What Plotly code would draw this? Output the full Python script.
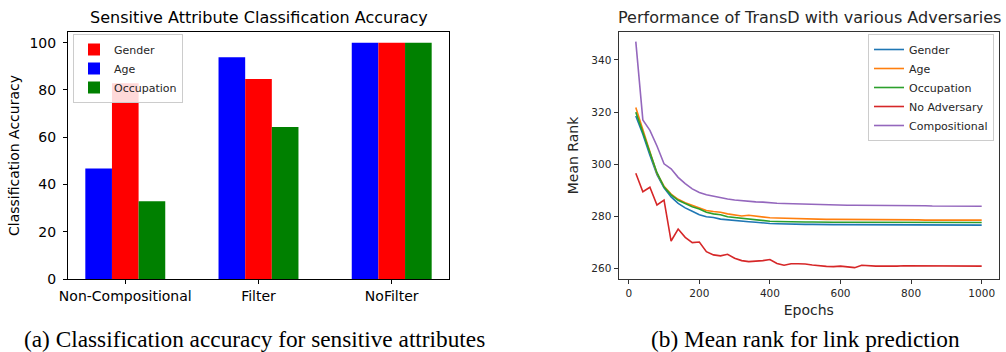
import plotly.graph_objects as go

# ---------------- data: left chart ----------------
bar_categories = ["Non-Compositional", "Filter", "NoFilter"]
acc_age = [46.8, 93.8, 100.0]
acc_gender = [82.8, 84.6, 100.0]
acc_occupation = [32.9, 64.3, 100.0]
acc_yticks = [0, 20, 40, 60, 80, 100]

# ---------------- data: right chart ----------------
epochs = [20, 40, 60, 80, 100, 120, 140, 160, 180, 200,
          220, 240, 260, 280, 300, 320, 340, 360, 380, 400,
          420, 440, 460, 480, 500, 520, 540, 560, 580, 600,
          620, 640, 660, 680, 700, 720, 740, 760, 780, 800,
          820, 840, 860, 880, 900, 920, 940, 960, 980, 1000]
rank_gender = [318.5, 311.5, 303.5, 296.0, 291.0, 287.5, 285.0, 283.3, 282.0, 280.7,
               279.9, 279.6, 279.0, 278.7, 278.5, 278.2, 278.0, 277.8, 277.5, 277.3,
               277.2, 277.1, 277.1, 277.0, 277.0, 277.0, 276.9, 276.9, 276.9, 276.9,
               276.9, 276.8, 276.8, 276.8, 276.8, 276.8, 276.8, 276.8, 276.8, 276.8,
               276.8, 276.8, 276.8, 276.7, 276.7, 276.7, 276.7, 276.7, 276.7, 276.7]
rank_age = [321.8, 313.0, 304.8, 296.5, 291.6, 288.6, 286.6, 285.3, 284.3, 283.4,
            282.3, 281.9, 281.6, 281.0, 280.7, 280.2, 280.5, 280.1, 279.7, 279.5,
            279.4, 279.3, 279.2, 279.1, 279.0, 278.9, 278.9, 278.9, 278.9, 278.9,
            278.9, 278.8, 278.8, 278.8, 278.7, 278.7, 278.7, 278.7, 278.7, 278.7,
            278.7, 278.6, 278.6, 278.6, 278.6, 278.6, 278.6, 278.6, 278.6, 278.6]
rank_occupation = [320.0, 312.5, 304.5, 296.8, 291.3, 288.3, 286.2, 284.8, 283.7, 282.9,
                   281.6, 281.0, 280.7, 279.9, 279.6, 279.4, 279.1, 278.8, 278.5, 278.2,
                   278.1, 278.0, 278.0, 277.9, 277.9, 277.9, 277.8, 277.8, 277.8, 277.8,
                   277.8, 277.8, 277.8, 277.7, 277.7, 277.7, 277.7, 277.7, 277.7, 277.7,
                   277.7, 277.7, 277.7, 277.7, 277.7, 277.7, 277.7, 277.7, 277.7, 277.7]
rank_no_adv = [296.6, 289.5, 291.2, 284.4, 286.3, 270.6, 275.2, 272.0, 270.0, 270.2,
               266.5, 265.3, 264.9, 265.5, 264.0, 263.1, 262.7, 262.8, 263.1, 263.5,
               262.0, 261.3, 261.9, 261.9, 261.8, 261.4, 261.1, 260.9, 260.8, 261.0,
               260.7, 260.4, 261.3, 261.1, 261.0, 261.0, 260.9, 261.0, 261.1, 261.1,
               261.0, 261.0, 261.0, 260.9, 261.0, 261.0, 261.0, 261.0, 261.0, 261.0]
rank_compositional = [347.0, 317.0, 313.0, 307.0, 300.2, 298.3, 295.0, 292.6, 290.6, 289.2,
                      288.3, 287.7, 287.2, 286.7, 286.3, 286.0, 285.8, 285.6, 285.5, 285.2,
                      285.1, 285.0, 284.9, 284.8, 284.7, 284.6, 284.5, 284.5, 284.4, 284.4,
                      284.3, 284.3, 284.3, 284.2, 284.2, 284.2, 284.2, 284.1, 284.1, 284.1,
                      284.1, 284.1, 284.0, 284.0, 284.0, 284.0, 284.0, 283.9, 283.9, 283.9]
rank_xticks = [0, 200, 400, 600, 800, 1000]
rank_yticks = [260, 280, 300, 320, 340]

W, H = 1006, 352
SANS = "DejaVu Sans"


def px(x):
    return x / W


def py(y):
    return 1 - y / H


fig = go.Figure()

# left: grouped bars (order in group: Age, Gender, Occupation)
fig.add_trace(go.Bar(x=bar_categories, y=acc_age, name="Age", marker=dict(color="#0000ff", line=dict(width=0)),
                     xaxis="x", yaxis="y", legend="legend", legendrank=2))
fig.add_trace(go.Bar(x=bar_categories, y=acc_gender, name="Gender", marker=dict(color="#ff0000", line=dict(width=0)),
                     xaxis="x", yaxis="y", legend="legend", legendrank=1))
fig.add_trace(go.Bar(x=bar_categories, y=acc_occupation, name="Occupation", marker=dict(color="#008000", line=dict(width=0)),
                     xaxis="x", yaxis="y", legend="legend", legendrank=3))

# right: lines
line_series = [
    ("Gender", rank_gender, "#1f77b4"),
    ("Age", rank_age, "#ff7f0e"),
    ("Occupation", rank_occupation, "#2ca02c"),
    ("No Adversary", rank_no_adv, "#d62728"),
    ("Compositional", rank_compositional, "#9467bd"),
]
for i, (name, vals, col) in enumerate(line_series):
    fig.add_trace(go.Scatter(x=epochs, y=vals, name=name, mode="lines",
                             line=dict(color=col, width=1.6),
                             xaxis="x2", yaxis="y2", legend="legend2", legendrank=i + 1))

plot_top, plot_bot = 32, 279

fig.update_layout(
    width=W, height=H,
    margin=dict(l=0, r=0, t=0, b=0),
    paper_bgcolor="white", plot_bgcolor="white",
    font=dict(family=SANS, color="black"),
    barmode="group", bargap=0.4, bargroupgap=0,
    xaxis=dict(domain=[px(68), px(449)], range=[-0.43, 2.43], anchor="y",
               showline=True, linecolor="black", linewidth=1, mirror=True,
               ticks="outside", ticklen=4, tickcolor="black", showgrid=False,
               tickfont=dict(size=14, color="black", family=SANS), automargin=False),
    yaxis=dict(domain=[py(plot_bot), py(plot_top)], range=[0, 104.5], anchor="x",
               tickvals=acc_yticks, ticklabelstandoff=4,
               showline=True, linecolor="black", linewidth=1, mirror=True,
               ticks="outside", ticklen=4, tickcolor="black", showgrid=False, zeroline=False,
               tickfont=dict(size=14, color="black", family=SANS), automargin=False,
               title=dict(text="Classification Accuracy", font=dict(size=14, family=SANS, color="black"), standoff=6)),
    xaxis2=dict(domain=[px(618.5), px(999)], range=[-29, 1049], anchor="y2",
                tickvals=rank_xticks,
                showline=True, linecolor="#333333", linewidth=1, mirror=True,
                ticks="outside", ticklen=4, tickcolor="#333333", showgrid=False, zeroline=False,
                tickfont=dict(size=10.5, color="#262626", family=SANS), automargin=False,
                title=dict(text="Epochs", font=dict(size=14, family=SANS, color="#262626"), standoff=7)),
    yaxis2=dict(domain=[py(plot_bot), py(plot_top)], range=[256.05, 350.7], anchor="x2",
                tickvals=rank_yticks,
                showline=True, linecolor="#333333", linewidth=1, mirror=True,
                ticks="outside", ticklen=4, tickcolor="#333333", showgrid=False, zeroline=False,
                tickfont=dict(size=10.5, color="#262626", family=SANS), automargin=False,
                title=dict(text="Mean Rank", font=dict(size=14, family=SANS, color="#262626"), standoff=9)),
    legend=dict(x=px(73), y=py(34), xanchor="left", yanchor="top",
                bgcolor="rgba(255,255,255,0.85)", bordercolor="#cccccc", borderwidth=1,
                font=dict(size=11, family=SANS, color="#262626"), itemwidth=30,
                traceorder="normal", tracegroupgap=0),
    legend2=dict(x=px(994), y=py(34), xanchor="right", yanchor="top",
                 bgcolor="rgba(255,255,255,0.85)", bordercolor="#cccccc", borderwidth=1,
                 font=dict(size=11, family=SANS, color="#262626"), itemwidth=30,
                 traceorder="normal", tracegroupgap=0),
    showlegend=True,
)

annotations = [
    dict(text="Sensitive Attribute Classification Accuracy", x=px(258.5), y=py(17),
         font=dict(size=16, family=SANS, color="black")),
    dict(text="Performance of TransD with various Adversaries", x=px(809), y=py(17),
         font=dict(size=16, family=SANS, color="#262626")),
    dict(text="(a) Classification accuracy for sensitive attributes", x=px(254.5), y=py(339),
         font=dict(size=23.3, family="Liberation Serif", color="black")),
    dict(text="(b) Mean rank for link prediction", x=px(805.5), y=py(339),
         font=dict(size=23.3, family="Liberation Serif", color="black")),
]
for a in annotations:
    a.update(xref="paper", yref="paper", xanchor="center", yanchor="middle", showarrow=False)
fig.update_layout(annotations=annotations)

fig.write_html("out.html",
               config={"displayModeBar": False},
               post_script="document.body.style.margin='0';document.body.style.padding='0';")
